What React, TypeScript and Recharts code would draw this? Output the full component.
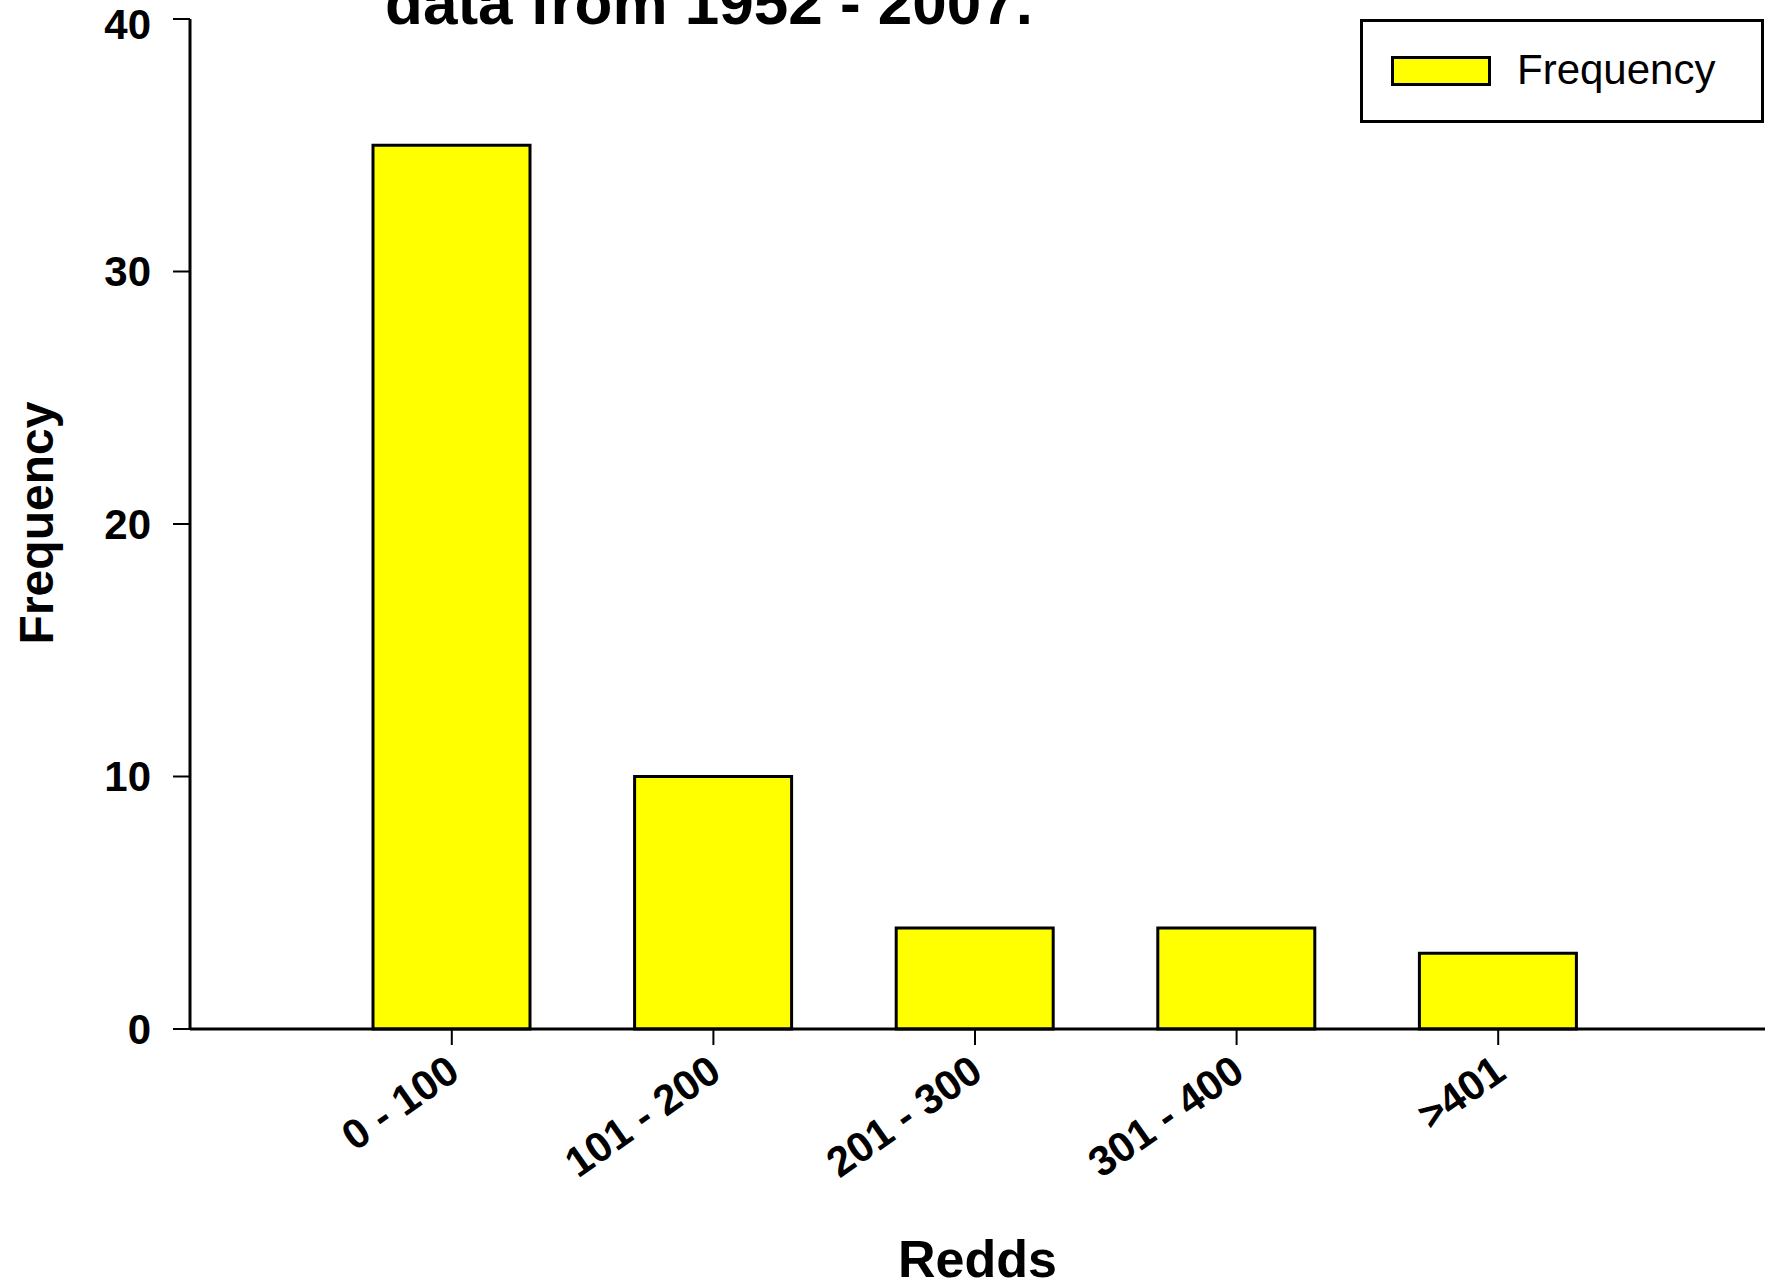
import { BarChart, Bar, XAxis, YAxis, Legend } from "recharts";

const categories = ["0 - 100", "101 - 200", "201 - 300", "301 - 400", ">401"];
const frequency = [35, 10, 4, 4, 3];
const yTicks = [0, 10, 20, 30, 40];

const data = categories.map((name, i) => ({ name, Frequency: frequency[i] }));

const FONT = "'Liberation Sans', Arial, Helvetica, sans-serif";

const XTick = (props: any) => {
  const { x, y, payload } = props;
  return (
    <text
      transform={`translate(${x + 10},${y + 30}) rotate(-35)`}
      textAnchor="end"
      fontSize={42}
      fontWeight="bold"
      fontFamily={FONT}
      fill="#000"
    >
      {payload.value}
    </text>
  );
};

const renderLegend = () => (
  <div
    style={{
      position: "relative",
      width: 404,
      height: 104,
      border: "3px solid #000",
      boxSizing: "border-box",
      background: "#fff",
    }}
  >
    <div
      style={{
        position: "absolute",
        left: 28,
        top: 34,
        width: 100,
        height: 30,
        background: "#ffff00",
        border: "3px solid #000",
        boxSizing: "border-box",
      }}
    />
    <span
      style={{
        position: "absolute",
        left: 154,
        top: 24,
        fontSize: 42,
        lineHeight: "48px",
        fontFamily: FONT,
        color: "#000",
        whiteSpace: "nowrap",
      }}
    >
      Frequency
    </span>
  </div>
);

export default function App() {
  return (
    <div style={{ position: "absolute", left: 0, top: 0, width: 1775, height: 1282, overflow: "hidden", background: "#fff" }}>
      <BarChart
        width={1775}
        height={1282}
        data={data}
        margin={{ top: 19, right: 10, bottom: 0, left: 0 }}
      >
        <text
          x={709}
          y={24}
          textAnchor="middle"
          fontSize={62}
          fontWeight="bold"
          fontFamily={FONT}
          fill="#000"
        >
          data from 1952 - 2007.
        </text>
        <XAxis
          dataKey="name"
          padding={{ left: 131, right: 136 }}
          axisLine={{ stroke: "#000", strokeWidth: 3 }}
          tickLine={{ stroke: "#000", strokeWidth: 2 }}
          tickSize={16}
          tick={<XTick />}
          interval={0}
          height={253}
          label={({ viewBox }: any) => (
            <text
              x={viewBox.x + viewBox.width / 2}
              y={1277}
              textAnchor="middle"
              fontSize={52}
              fontWeight="bold"
              fontFamily={FONT}
              fill="#000"
            >
              Redds
            </text>
          )}
        />
        <YAxis
          domain={[0, 40]}
          ticks={yTicks}
          width={190}
          axisLine={{ stroke: "#000", strokeWidth: 3 }}
          tickLine={{ stroke: "#000", strokeWidth: 2 }}
          tickSize={17}
          tickMargin={22}
          tick={{ fontSize: 42, fontWeight: "bold", fill: "#000", fontFamily: FONT }}
          label={({ viewBox }: any) => (
            <text
              transform={`translate(53,${viewBox.y + viewBox.height / 2 - 1}) rotate(-90)`}
              textAnchor="middle"
              fontSize={48}
              fontWeight="bold"
              fontFamily={FONT}
              fill="#000"
            >
              Frequency
            </text>
          )}
        />
        {/* middle/center keeps the legend from taking space off the plot */}
        <Legend
          content={renderLegend}
          layout="horizontal"
          verticalAlign="middle"
          align="center"
          wrapperStyle={{ position: "absolute", left: 1360, top: 19, width: 404, height: 104 }}
        />
        <Bar
          dataKey="Frequency"
          fill="#ffff00"
          stroke="#000"
          strokeWidth={3}
          barSize={157}
          isAnimationActive={false}
        />
      </BarChart>
    </div>
  );
}
